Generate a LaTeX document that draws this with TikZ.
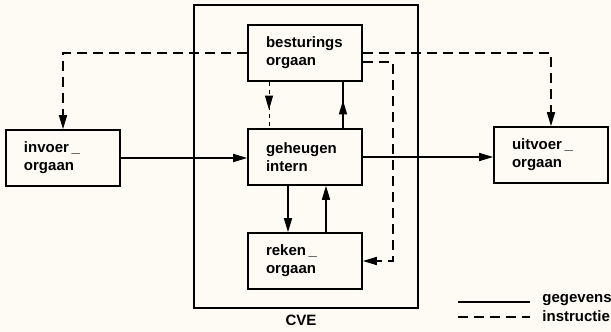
\documentclass[tikz,border=0pt]{standalone}
\usepackage{fontspec}
\setmainfont{Liberation Sans}
\usetikzlibrary{arrows.meta, decorations.markings}
\definecolor{paper}{RGB}{253,251,244}

\begin{document}
\begin{tikzpicture}[x=0.5pt,y=-0.5pt,>={Triangle[length=7pt,width=4pt]},
  line width=0.8pt,font=\fontsize{7.5}{9}\selectfont\bfseries,
  orgaan/.style={draw,rectangle,minimum height=28pt,text width=39pt,
    align=left,inner xsep=9pt,inner ysep=0pt},
  instr/.style={dash pattern=on 5pt off 3pt},
  midarrow/.style={postaction={decorate},decoration={markings,
    mark=at position 0.6 with {\arrow{>}}}}]
  % px grid: 611 x 332
  \useasboundingbox (0,0) rectangle (611,332);
  \fill[paper] (0,0) rectangle (611,332);
  % CVE frame
  \node[draw,inner sep=0pt,minimum width=112pt,minimum height=151.5pt] (cve) at (306,156.5) {};
  \node (cvelabel) at (301,320) {CVE};
  % organen
  \node[orgaan] (besturing) at (305,53) {besturings\\orgaan};
  \node[orgaan] (geheugen) at (305,157) {geheugen\\intern};
  \node[orgaan] (reken) at (305,261) {reken\,\_\\orgaan};
  \node[orgaan] (invoer) at (63,158) {invoer\,\_\\orgaan};
  \node[orgaan] (uitvoer) at (551,155) {uitvoer\,\_\\orgaan};
  % gegevens
  \draw[->] (invoer.east) -- (invoer.east -| geheugen.west);
  \draw[->] (geheugen.east) -- (geheugen.east -| uitvoer.west);
  \draw[->] ([xshift=-8.5pt]geheugen.south) -- ([xshift=-8.5pt]reken.north);
  \draw[->] ([xshift=10.5pt]reken.north) -- ([xshift=10.5pt]geheugen.south);
  \draw[midarrow] ([xshift=19pt]geheugen.north) -- ([xshift=19pt]besturing.south);
  % instructies
  \draw[line width=0.5pt,dash pattern=on 2pt off 2pt,midarrow]
    ([xshift=-18pt]besturing.south) -- ([xshift=-18pt]geheugen.north);
  \draw[instr,->] (besturing.west) -| (invoer.north);
  \draw[instr,->] (besturing.east) -| (uitvoer.north);
  \draw[instr,->] ([yshift=-4.5pt]besturing.east) -- ++(30,0) |- (reken.east);
  % legenda
  \node[anchor=west] (gegevens) at (535,300) {gegevens};
  \node[anchor=west] (instructie) at (535,316) {instructie};
  \coordinate (gegA) at (458,302);
  \coordinate (gegB) at (530,302);
  \coordinate (insA) at (458,317);
  \coordinate (insB) at (530,317);
  \draw (gegA) -- (gegB);
  \draw[instr] (insA) -- (insB);
\end{tikzpicture}
\end{document}
